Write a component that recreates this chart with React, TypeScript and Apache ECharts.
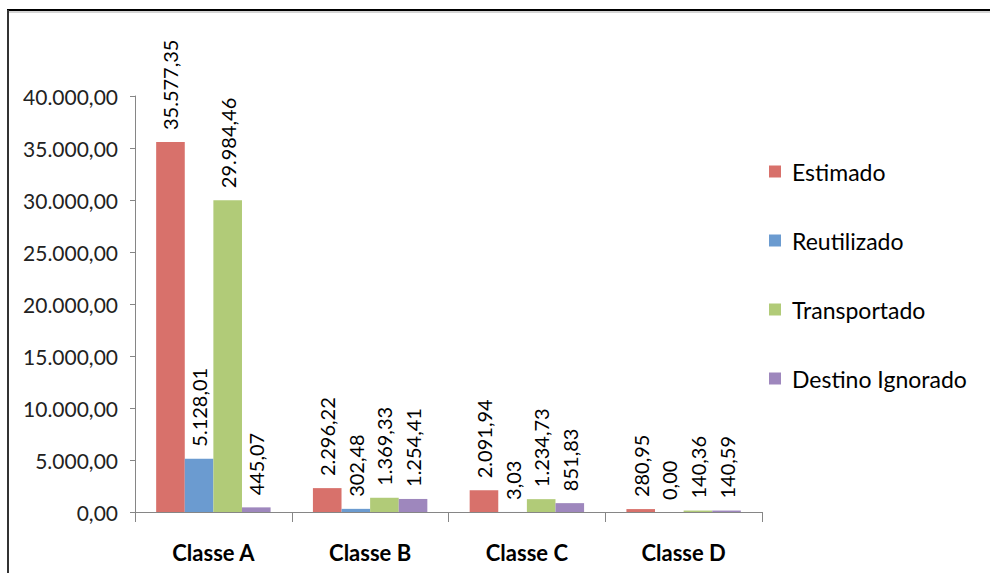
import React, { useEffect, useRef } from "react";
import * as echarts from "echarts";

const categories = ["Classe A", "Classe B", "Classe C", "Classe D"];
const seriesNames = ["Estimado", "Reutilizado", "Transportado", "Destino Ignorado"];
const estimado = [35577.35, 2296.22, 2091.94, 280.95];
const reutilizado = [5128.01, 302.48, 3.03, 0.0];
const transportado = [29984.46, 1369.33, 1234.73, 140.36];
const destinoIgnorado = [445.07, 1254.41, 851.83, 140.59];
const colors = ["#D8716B", "#6B9BD0", "#B1CB78", "#9E87BD"];

const yMin = 0;
const yMax = 40000;
const yInterval = 5000;

function fmt(v: number): string {
  const [i, d] = Number(v).toFixed(2).split(".");
  return i.replace(/\B(?=(\d{3})+(?!\d))/g, ".") + "," + d;
}

const FONT = "Lato, 'Open Sans', sans-serif";

export default function App() {
  const ref = useRef<HTMLDivElement>(null);
  useEffect(() => {
    if (!ref.current) return;
    const chart = echarts.init(ref.current, undefined, { renderer: "svg" });
    const data = [estimado, reutilizado, transportado, destinoIgnorado];
    chart.setOption({
      animation: false,
      backgroundColor: "#ffffff",
      textStyle: { fontFamily: FONT },
      grid: { left: 135, right: 228, top: 96, bottom: 61, containLabel: false },
      legend: {
        orient: "vertical",
        left: 764,
        top: 155,
        itemWidth: 12,
        itemHeight: 12,
        itemGap: 46,
        icon: "rect",
        data: seriesNames,
        textStyle: {
          fontFamily: FONT,
          fontSize: 23,
          lineHeight: 22,
          color: "#000",
          padding: [0, 0, 0, 6],
        },
      },
      xAxis: {
        type: "category",
        data: categories,
        axisLine: { lineStyle: { color: "#868686", width: 1 } },
        axisTick: { show: true, length: 10, lineStyle: { color: "#868686" } },
        axisLabel: {
          fontFamily: FONT,
          fontSize: 22,
          fontWeight: "bold",
          color: "#000",
          margin: 29,
        },
      },
      yAxis: {
        type: "value",
        min: yMin,
        max: yMax,
        interval: yInterval,
        splitLine: { show: false },
        axisLine: { show: true, lineStyle: { color: "#868686", width: 1 } },
        axisTick: { show: true, length: 5, lineStyle: { color: "#868686" } },
        axisLabel: {
          fontFamily: FONT,
          fontSize: 21,
          color: "#222",
          margin: 17,
          formatter: (v: number) => fmt(v),
        },
      },
      series: seriesNames.map((name, idx) => ({
        name,
        type: "bar",
        data: data[idx],
        barGap: "0%",
        barCategoryGap: "27%",
        itemStyle: { color: colors[idx] },
        label: {
          show: true,
          position: "top",
          rotate: 90,
          align: "left",
          verticalAlign: "middle",
          distance: 12,
          fontFamily: FONT,
          fontSize: 20,
          color: "#000",
          formatter: (p: any) => fmt(p.value),
        },
      })),
      graphic: [
        {
          type: "line",
          shape: { x1: 8, y1: 12, x2: 990, y2: 12 },
          style: { stroke: "#aaa", lineWidth: 1 },
          silent: true,
        },
        {
          type: "line",
          shape: { x1: 7, y1: 10, x2: 990, y2: 10 },
          style: { stroke: "#000", lineWidth: 2 },
          silent: true,
        },
        {
          type: "line",
          shape: { x1: 8, y1: 10, x2: 8, y2: 573 },
          style: { stroke: "#333", lineWidth: 2 },
          silent: true,
        },
      ],
    });
    return () => chart.dispose();
  }, []);
  return (
    <div
      ref={ref}
      style={{ position: "fixed", left: 0, top: 0, width: 990, height: 573 }}
    />
  );
}
